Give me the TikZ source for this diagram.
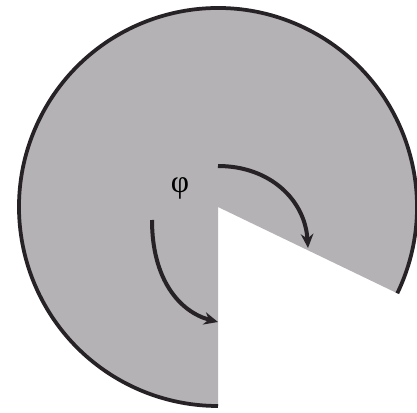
\documentclass[tikz,border=0pt]{standalone}
\usepackage{fontspec}
\newfontfamily\greekfont{Liberation Serif}
\usetikzlibrary{arrows.meta,calc}
\definecolor{diskgray}{RGB}{180,178,181}
\definecolor{rimdark}{RGB}{38,34,38}
\tikzset{
  disk/.style={
    fill=diskgray,
    draw=none
  },
  rim/.style={
    draw=rimdark,
    line width=0.075cm
  },
  turn/.style={
    draw=rimdark,
    line width=0.08cm,
    -{Stealth[length=2.8mm,width=2.5mm]}
  },
  anglelabel/.style={
    inner sep=0pt,
    font=\greekfont\fontsize{18}{18}\selectfont
  }
}

\begin{document}
\begin{tikzpicture}
    \useasboundingbox (0,0) rectangle (8.34,-8.26);
    \coordinate (c) at (4.36,-4.14);
    \coordinate (cut) at ($(c)+(-25.7:3.98)$);
    % the disk with the wedge taken out
    \fill[disk] (c) -- (cut) arc[start angle=-25.7, end angle=270, radius=3.98] -- cycle;
    \draw[rim] (cut) arc[start angle=-25.7, end angle=270, radius=3.98];
    \node[anglelabel] (phi) at (3.60,-3.76) {φ};
    % the two turning arrows
    \coordinate (upS) at (4.36,-3.32);
    \coordinate (upE) at (6.16,-4.96);
    \coordinate (loS) at (3.04,-4.40);
    \coordinate (loE) at (4.36,-6.44);
    \draw[turn] (upS) .. controls (5.40,-3.32) and (6.10,-4.00) .. (upE);
    \draw[turn] (loS) .. controls (3.04,-5.60) and (3.60,-6.24) .. (loE);
\end{tikzpicture}
\end{document}
